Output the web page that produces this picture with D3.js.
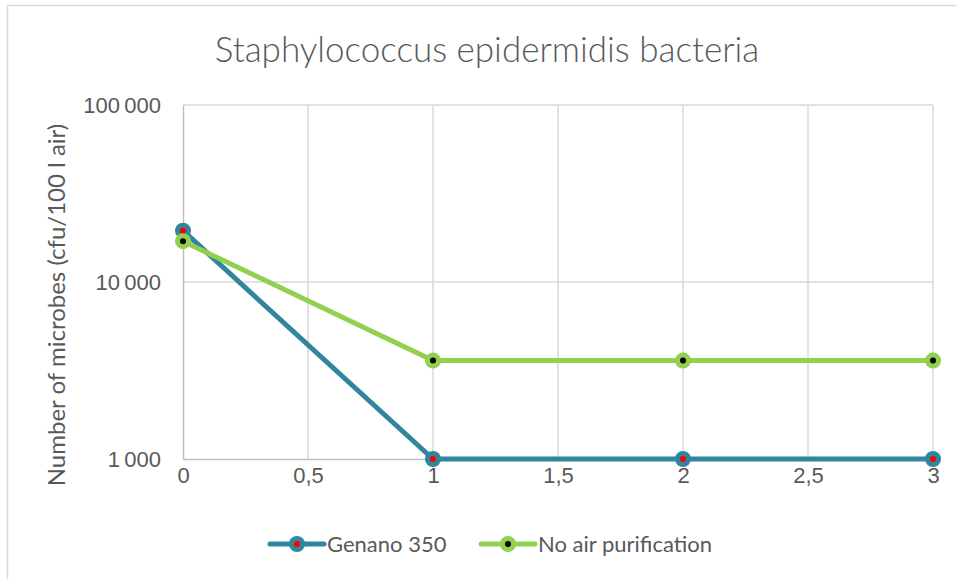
<!DOCTYPE html>
<meta charset="utf-8">
<style>
  body { margin: 0; background: #fff; font-family: Lato, 'Open Sans', sans-serif; }
  .tick text { fill: #595959; font-size: 22px; }
  .grid line { stroke: #d9d9d9; stroke-width: 1.5; }
</style>
<body>
<div id="viz"></div>
<script src="https://d3js.org/d3.v7.min.js"></script>
<script>
// data
var hours = [0, 1, 2, 3];
var genano = [19500, 1000, 1000, 1000];
var noPurif = [17000, 3600, 3600, 3600];
var xTicks = [0, 0.5, 1, 1.5, 2, 2.5, 3];
var yTicks = [1000, 10000, 100000];
var seriesNames = ['Genano 350', 'No air purification'];

var W = 956, H = 579;
var margin = {top: 105, right: 23, bottom: 120, left: 183};
var width = W - margin.left - margin.right,
    height = H - margin.top - margin.bottom;

var series = [
  {name: seriesNames[0], values: genano, color: '#31859c', dot: '#ff0000'},
  {name: seriesNames[1], values: noPurif, color: '#92d050', dot: '#000000'}
];

var svg = d3.select('#viz').append('svg')
    .attr('width', W)
    .attr('height', H);

// chart border
svg.append('rect')
    .attr('x', 7.5).attr('y', 5.5)
    .attr('width', W).attr('height', H)
    .attr('fill', 'none')
    .attr('stroke', '#d9d9d9')
    .attr('stroke-width', 1.5);

var x = d3.scaleLinear().domain([0, 3]).range([0, width]);
var y = d3.scaleLog().domain([1000, 100000]).range([height, 0]);

var g = svg.append('g')
    .attr('transform', 'translate(' + margin.left + ',' + margin.top + ')');

// title
svg.append('text')
    .attr('x', 487).attr('y', 62)
    .attr('text-anchor', 'middle')
    .attr('fill', '#595959')
    .style('font-size', '35px')
    .style('font-weight', 300)
    .text('Staphylococcus epidermidis bacteria');

// gridlines
g.append('g').attr('class', 'grid')
  .selectAll('line').data(xTicks.filter(function(d){ return d > 0; }))
  .enter().append('line')
    .attr('x1', function(d){ return x(d); })
    .attr('x2', function(d){ return x(d); })
    .attr('y1', 0).attr('y2', height);

g.append('g').attr('class', 'grid')
  .selectAll('line').data(yTicks.filter(function(d){ return d > 1000; }))
  .enter().append('line')
    .attr('x1', 0).attr('x2', width)
    .attr('y1', function(d){ return y(d); })
    .attr('y2', function(d){ return y(d); });

// axes
var fmt = function(d){ return d3.format(',')(d).replace(/,/g, '\u2009'); };

var yAxis = g.append('g')
    .call(d3.axisLeft(y).tickValues(yTicks).tickFormat(fmt).tickSize(0).tickPadding(22));
yAxis.select('.domain').attr('stroke', '#bfbfbf').attr('stroke-width', 1.5);

var xAxis = g.append('g')
    .attr('transform', 'translate(0,' + height + ')')
    .call(d3.axisBottom(x).tickValues(xTicks)
      .tickFormat(function(d){ return String(d).replace('.', ','); })
      .tickSize(0).tickPadding(8));
xAxis.select('.domain').attr('stroke', '#bfbfbf').attr('stroke-width', 1.5);

// y label
svg.append('text')
    .attr('transform', 'translate(65,' + 305 + ') rotate(-90)')
    .attr('text-anchor', 'middle')
    .attr('fill', '#595959')
    .style('font-size', '24px')
    .text('Number of microbes (cfu/100 l air)');

// lines
var line = d3.line()
    .x(function(d, i){ return x(hours[i]); })
    .y(function(d){ return y(d); });

series.forEach(function(s) {
  g.append('path')
      .datum(s.values)
      .attr('fill', 'none')
      .attr('stroke', s.color)
      .attr('stroke-width', 5)
      .attr('stroke-linejoin', 'round')
      .attr('d', line);

  var pts = g.append('g').selectAll('g')
      .data(s.values).enter().append('g')
      .attr('transform', function(d, i){ return 'translate(' + x(hours[i]) + ',' + y(d) + ')'; });
  pts.append('circle').attr('r', 8).attr('fill', s.color);
  pts.append('circle').attr('r', 3).attr('fill', s.dot);
});

// legend
var legendX = [270, 481];
var leg = svg.append('g').selectAll('g')
    .data(series).enter().append('g')
    .attr('transform', function(d, i){ return 'translate(' + legendX[i] + ',544)'; });
leg.append('line')
    .attr('x1', 0).attr('x2', 54)
    .attr('stroke', function(d){ return d.color; })
    .attr('stroke-width', 5)
    .attr('stroke-linecap', 'round');
leg.append('circle').attr('cx', 27).attr('r', 8).attr('fill', function(d){ return d.color; });
leg.append('circle').attr('cx', 27).attr('r', 3).attr('fill', function(d){ return d.dot; });
leg.append('text')
    .attr('x', 57).attr('y', 8)
    .attr('fill', '#595959')
    .style('font-size', '22px')
    .text(function(d){ return d.name; });
</script>
</body>
